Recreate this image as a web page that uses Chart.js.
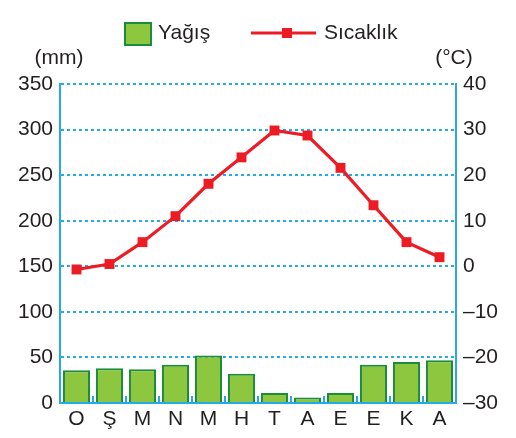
<!DOCTYPE html>
<html>
<head>
<meta charset="utf-8">
<script src="https://cdn.jsdelivr.net/npm/chart.js@4.4.0/dist/chart.umd.min.js"></script>
<style>
  html, body { margin: 0; padding: 0; background: #fff; }
  #wrap { width: 516px; height: 438px; }
</style>
</head>
<body>
<div id="wrap"><canvas id="c" width="516" height="438"></canvas></div>
<script>
const months = ["O", "Ş", "M", "N", "M", "H", "T", "A", "E", "E", "K", "A"];
const rainfall = [36, 38, 37, 42, 52, 32, 11, 6, 11, 42, 45, 47];
const temperature = [-0.7, 0.5, 5.3, 11.0, 18.1, 23.9, 29.8, 28.7, 21.6, 13.4, 5.3, 2.0];
const rainTicks = [0, 50, 100, 150, 200, 250, 300, 350];
const tempTicks = [-30, -20, -10, 0, 10, 20, 30, 40];

const blue = "#27a9e8";
const textColor = "#231f20";
const font = "Liberation Sans, Arial, sans-serif";

// legend + unit labels drawn on the canvas
const extras = {
    id: "extras",
    afterDraw(chart) {
        const ctx = chart.ctx;
        const bar = chart.data.datasets[1];
        const line = chart.data.datasets[0];
        ctx.save();
        ctx.font = "21px " + font;
        ctx.fillStyle = textColor;
        ctx.textBaseline = "middle";

        // bar legend
        ctx.fillStyle = bar.backgroundColor;
        ctx.fillRect(125, 23, 26, 22);
        ctx.strokeStyle = bar.borderColor;
        ctx.lineWidth = 2;
        ctx.strokeRect(125, 23, 26, 22);
        ctx.fillStyle = textColor;
        ctx.textAlign = "left";
        ctx.fillText(bar.label, 158, 33);

        // line legend
        ctx.strokeStyle = line.borderColor;
        ctx.lineWidth = 3;
        ctx.beginPath();
        ctx.moveTo(251, 33);
        ctx.lineTo(316, 33);
        ctx.stroke();
        ctx.fillStyle = line.pointBackgroundColor;
        ctx.fillRect(282, 28, 10, 10);
        ctx.fillStyle = textColor;
        ctx.fillText(line.label, 324, 33);

        // units
        ctx.textAlign = "center";
        ctx.fillText("(mm)", 59, 58);
        ctx.fillText("(°C)", 454, 58);
        ctx.restore();
    }
};

new Chart(document.getElementById("c").getContext("2d"), {
    data: {
        labels: months,
        datasets: [
            {
                type: "line",
                label: "Sıcaklık",
                data: temperature,
                yAxisID: "y1",
                borderColor: "#ed1c24",
                borderWidth: 3.2,
                pointStyle: "rect",
                pointRadius: 7,
                pointBackgroundColor: "#ed1c24",
                pointBorderWidth: 0,
                tension: 0,
                order: 0
            },
            {
                type: "bar",
                label: "Yağış",
                data: rainfall,
                yAxisID: "y",
                backgroundColor: "#8dc63f",
                borderColor: "#1b8c3b",
                borderWidth: 2,
                barPercentage: 0.82,
                categoryPercentage: 1,
                order: 1
            }
        ]
    },
    options: {
        responsive: false,
        animation: false,
        events: [],
        layout: { padding: { top: 84, left: 0, right: 0, bottom: 0 } },
        plugins: {
            legend: { display: false },
            tooltip: { enabled: false }
        },
        scales: {
            x: {
                offset: true,
                afterFit: (s) => { s.height = 35; },
                grid: {
                    offset: true,
                    drawOnChartArea: false,
                    drawTicks: true,
                    tickLength: -7,
                    color: blue,
                    lineWidth: 2
                },
                border: { display: true, color: blue, width: 2 },
                ticks: {
                    color: textColor,
                    font: { family: font, size: 21 },
                    padding: 11,
                    maxRotation: 0
                }
            },
            y: {
                position: "left",
                min: 0,
                max: 350,
                afterFit: (s) => { s.width = 60; },
                afterBuildTicks: (s) => { s.ticks = rainTicks.map(v => ({ value: v })); },
                grid: {
                    drawTicks: false,
                    color: blue,
                    lineWidth: 2
                },
                border: { display: true, color: blue, width: 2, dash: [3, 3] },
                ticks: {
                    color: textColor,
                    font: { family: font, size: 21 },
                    padding: 7
                }
            },
            y1: {
                position: "right",
                min: -30,
                max: 40,
                afterFit: (s) => { s.width = 60; },
                afterBuildTicks: (s) => { s.ticks = tempTicks.map(v => ({ value: v })); },
                grid: { drawOnChartArea: false, drawTicks: false },
                border: { display: true, color: blue, width: 2 },
                ticks: {
                    color: textColor,
                    font: { family: font, size: 21 },
                    padding: 7,
                    callback: (v) => v < 0 ? "–" + Math.abs(v) : String(v)
                }
            }
        }
    },
    plugins: [extras]
});
</script>
</body>
</html>
